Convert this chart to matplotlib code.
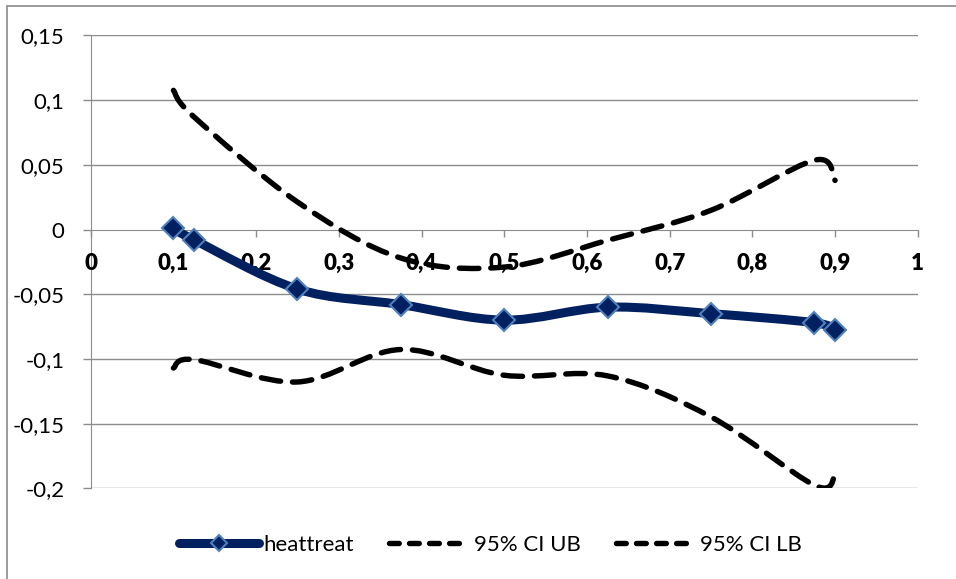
import matplotlib
matplotlib.use("Agg")
import matplotlib.pyplot as plt
from matplotlib.path import Path
from matplotlib.patches import PathPatch, Rectangle
from matplotlib.lines import Line2D

plt.rcParams['font.family'] = ['Lato', 'DejaVu Sans']

# quantile levels and estimates
tau = [0.1, 0.125, 0.25, 0.375, 0.5, 0.625, 0.75, 0.875, 0.9]
heattreat = [0.001, -0.008, -0.046, -0.058, -0.070, -0.060, -0.065, -0.072, -0.078]
ci_ub = [0.1076, 0.087, 0.0213, -0.022, -0.029, -0.0083, 0.0149, 0.0536, 0.038]
ci_lb = [-0.107, -0.1005, -0.1178, -0.0927, -0.1126, -0.1131, -0.1448, -0.1976, -0.19]

xticks = [0, 0.1, 0.2, 0.3, 0.4, 0.5, 0.6, 0.7, 0.8, 0.9, 1]
xlabels = ["0", "0,1", "0,2", "0,3", "0,4", "0,5", "0,6", "0,7", "0,8", "0,9", "1"]
yticks = [0.15, 0.1, 0.05, 0, -0.05, -0.1, -0.15, -0.2]
ylabels = ["0,15", "0,1", "0,05", "0", "-0,05", "-0,1", "-0,15", "-0,2"]

navy = "#002060"
edge_blue = "#4F81BD"
grid_gray = "#8c8c8c"


def smooth_path(xs, ys):
    # bezier smoothing like a spreadsheet "smoothed line"
    pts = list(zip(xs, ys))
    n = len(pts)
    verts = [pts[0]]
    codes = [Path.MOVETO]
    for i in range(n - 1):
        p0 = pts[i - 1] if i > 0 else pts[i]
        p1 = pts[i]
        p2 = pts[i + 1]
        p3 = pts[i + 2] if i + 2 < n else pts[i + 1]
        c1 = (p1[0] + (p2[0] - p0[0]) / 6, p1[1] + (p2[1] - p0[1]) / 6)
        c2 = (p2[0] - (p3[0] - p1[0]) / 6, p2[1] - (p3[1] - p1[1]) / 6)
        verts += [c1, c2, p2]
        codes += [Path.CURVE4] * 3
    return Path(verts, codes)


fig = plt.figure(figsize=(9.56, 5.79), dpi=100)
ax = fig.add_axes([0.0949, 0.1566, 0.96 - 0.0949, 0.9387 - 0.1566])

ax.set_xlim(0, 1)
ax.set_ylim(-0.2, 0.15)

# horizontal gridlines
for y in yticks:
    if y != 0:
        ax.axhline(y, color=grid_gray, lw=1.0, zorder=0)

ax.add_patch(PathPatch(smooth_path(tau, heattreat), fill=False, edgecolor=navy,
                       lw=6.5, joinstyle='round', capstyle='round', zorder=3))
ax.plot(tau, heattreat, linestyle='none', marker='D', ms=11, mfc=navy,
        mec=edge_blue, mew=1.5, zorder=4)

for vals in (ci_ub, ci_lb):
    ax.add_patch(PathPatch(smooth_path(tau, vals), fill=False, edgecolor='black',
                           lw=3.9, linestyle=(0, (3.6, 2.2)), capstyle='round',
                           joinstyle='round', zorder=5))

# axes crossing at zero
for s in ('top', 'right'):
    ax.spines[s].set_visible(False)
ax.spines['bottom'].set_position(('data', 0))
ax.spines['bottom'].set_color(grid_gray)
ax.spines['left'].set_color(grid_gray)
ax.spines['bottom'].set_zorder(1)
ax.spines['left'].set_zorder(1)

ax.set_xticks(xticks)
ax.set_xticklabels(xlabels, fontsize=16, fontweight='heavy')
ax.set_yticks(yticks)
ax.set_yticklabels(ylabels, fontsize=16)
ax.tick_params(axis='x', direction='out', length=5, width=1, color=grid_gray, pad=12)
ax.tick_params(axis='y', direction='out', length=6, width=1, color=grid_gray, pad=13)

handles = [
    Line2D([], [], color=navy, lw=6.5, solid_capstyle='round', marker='D', ms=8,
           mfc=navy, mec=edge_blue, mew=1.5),
    Line2D([], [], color='black', lw=3.9, linestyle=(0, (1.8, 1.9)), dash_capstyle='round'),
    Line2D([], [], color='black', lw=3.9, linestyle=(0, (1.8, 1.9)), dash_capstyle='round'),
]
fig.legend(handles, ["heattreat", "95% CI UB", "95% CI LB"], loc='center',
           bbox_to_anchor=(0.513, 1 - 545 / 579), ncol=3, frameon=False,
           fontsize=16, handlelength=3.6, handletextpad=0.2, columnspacing=1.6)

# chart area border
fig.add_artist(Rectangle((7 / 956, -0.05), 1.1, 1 - 6 / 579 + 0.05,
                         transform=fig.transFigure, fill=False,
                         edgecolor='#8a8a8a', lw=1.2))

fig.savefig("out.png", dpi=100)
